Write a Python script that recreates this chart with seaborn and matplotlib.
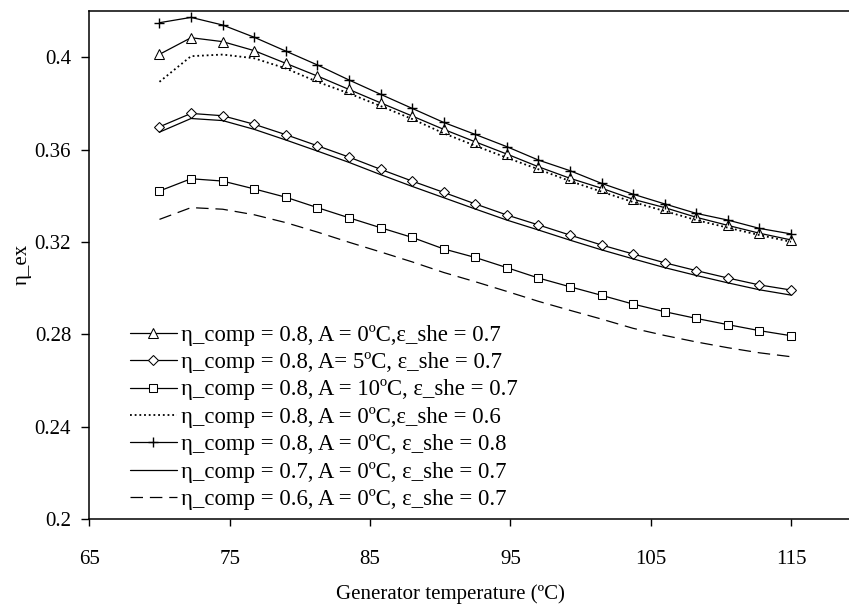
import numpy as np
import pandas as pd
import matplotlib
matplotlib.use("Agg")
import matplotlib.pyplot as plt
import seaborn as sns

# ---- data ----
temps = [70, 72.25, 74.5, 76.75, 79, 81.25, 83.5, 85.75, 88, 90.25, 92.5,
         94.75, 97, 99.25, 101.5, 103.75, 106, 108.25, 110.5, 112.75, 115]

eta_tri = [0.4013, 0.4085, 0.4068, 0.4029, 0.3974, 0.3919, 0.3861, 0.3803, 0.3746, 0.3688, 0.3634,
           0.3581, 0.3526, 0.3476, 0.3433, 0.3385, 0.3349, 0.3307, 0.3272, 0.3238, 0.3209]
eta_dia = [0.3699, 0.3757, 0.3747, 0.3710, 0.3665, 0.3617, 0.3568, 0.3515, 0.3464, 0.3415, 0.3365,
           0.3317, 0.3274, 0.3230, 0.3187, 0.3148, 0.3110, 0.3076, 0.3044, 0.3014, 0.2992]
eta_sq = [0.3421, 0.3474, 0.3464, 0.3430, 0.3394, 0.3349, 0.3305, 0.3262, 0.3220, 0.3170, 0.3133,
          0.3089, 0.3044, 0.3006, 0.2969, 0.2931, 0.2898, 0.2869, 0.2842, 0.2816, 0.2794]
eta_dot = [0.3894, 0.4005, 0.4012, 0.3996, 0.3952, 0.3894, 0.3844, 0.3789, 0.3733, 0.3671, 0.3617,
           0.3565, 0.3515, 0.3464, 0.3418, 0.3373, 0.3334, 0.3295, 0.3262, 0.3230, 0.3201]
eta_plus = [0.4150, 0.4173, 0.4140, 0.4087, 0.4027, 0.3967, 0.3902, 0.3840, 0.3779, 0.3718, 0.3666,
            0.3613, 0.3555, 0.3509, 0.3454, 0.3407, 0.3365, 0.3324, 0.3295, 0.3259, 0.3235]
eta_c07 = [0.3676, 0.3735, 0.3726, 0.3688, 0.3642, 0.3594, 0.3545, 0.3492, 0.3441, 0.3392, 0.3343,
           0.3295, 0.3252, 0.3208, 0.3166, 0.3127, 0.3089, 0.3055, 0.3023, 0.2993, 0.2970]
eta_c06 = [0.3298, 0.3349, 0.3342, 0.3318, 0.3284, 0.3243, 0.3199, 0.3157, 0.3114, 0.3068, 0.3028,
           0.2986, 0.2943, 0.2904, 0.2866, 0.2826, 0.2795, 0.2767, 0.2742, 0.2720, 0.2703]

labels = ["η_comp = 0.8, A = 0ºC,ε_she = 0.7",
          "η_comp = 0.8, A= 5ºC, ε_she = 0.7",
          "η_comp = 0.8, A = 10ºC, ε_she = 0.7",
          "η_comp = 0.8, A = 0ºC,ε_she = 0.6",
          "η_comp = 0.8, A = 0ºC, ε_she = 0.8",
          "η_comp = 0.7, A = 0ºC, ε_she = 0.7",
          "η_comp = 0.6, A = 0ºC, ε_she = 0.7"]
series = [eta_tri, eta_dia, eta_sq, eta_dot, eta_plus, eta_c07, eta_c06]

xticks = [65, 75, 85, 95, 105, 115]
yticks = [0.2, 0.24, 0.28, 0.32, 0.36, 0.4]

# ---- style ----
sns.set_theme(style="white")
plt.rcParams['font.family'] = ['Liberation Serif', 'DejaVu Serif']

styles = [
    dict(marker='^', markersize=7, linestyle='-', linewidth=0.9),
    dict(marker='D', markersize=5, linestyle='-', linewidth=0.9),
    dict(marker='s', markersize=5.5, linestyle='-', linewidth=0.9),
    dict(marker=None, linestyle=(0, (1.0, 1.6)), linewidth=1.3),
    dict(marker='+', markersize=7, linestyle='-', markeredgewidth=1.0, linewidth=0.9),
    dict(marker=None, linestyle='-', linewidth=0.9),
    dict(marker=None, linestyle=(0, (10, 5.5)), linewidth=0.9),
]

fig = plt.figure(figsize=(8.49, 6.05), dpi=100)
ax_left = 89.3 / 849
ax_bottom = (605 - 519) / 605
ax_height = (519 - 10.7) / 605
px_per_unit = 701.7 / 50
ax_width = 55 * px_per_unit / 849
ax = fig.add_axes([ax_left, ax_bottom, ax_width, ax_height])

for vals, lab, st in zip(series, labels, styles):
    sns.lineplot(x=temps, y=vals, ax=ax, color='black',
                 markerfacecolor='white', markeredgecolor='black',
                 label=lab, **st)

ax.set_xlim(65, 120)
ax.set_ylim(0.2, 0.4202)
ax.set_xticks(xticks)
ax.set_xticklabels([str(t) for t in xticks])
ax.set_yticks(yticks)
ax.set_yticklabels(["0.2", "0.24", "0.28", "0.32", "0.36", "0.4"])

for s in ['left', 'bottom', 'top', 'right']:
    ax.spines[s].set_color('black')
    ax.spines[s].set_linewidth(1.1)

ax.tick_params(axis='x', direction='out', length=5, width=1, color='black',
               labelsize=15, pad=17.5, bottom=True)
ax.tick_params(axis='y', direction='out', length=6, width=1, color='black',
               labelsize=15, pad=7, left=True)
for t in ax.get_xticklabels() + ax.get_yticklabels():
    t.set_color('black')

ax.set_xlabel("Generator temperature (ºC)", fontsize=15, color='black')
ax.xaxis.set_label_coords((450 - 89.3) / (55 * px_per_unit), -0.128)
ax.set_ylabel("η_ex", fontsize=15, color='black', labelpad=2)

leg = ax.legend(loc='lower left', bbox_to_anchor=(130 / 849, (605 - 510) / 605),
                bbox_transform=fig.transFigure, frameon=False, fontsize=16.4,
                handlelength=2.05, handletextpad=0.2, labelspacing=0.28,
                borderpad=0, borderaxespad=0)
for t in leg.get_texts():
    t.set_color('black')

fig.savefig("out.png", dpi=100)
